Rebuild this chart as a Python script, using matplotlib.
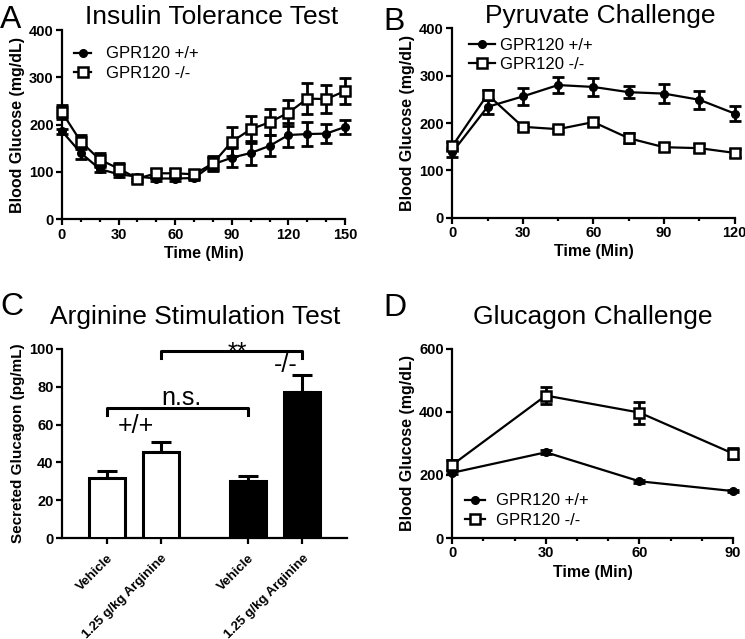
import matplotlib
matplotlib.use("Agg")
import matplotlib.pyplot as plt
import numpy as np

plt.rcParams['font.family'] = ['Liberation Sans', 'DejaVu Sans']

# Panel A - insulin tolerance test
itt_time = [0, 10, 20, 30, 40, 50, 60, 70, 80, 90, 100, 110, 120, 130, 140, 150]
itt_wt = [186, 140, 106, 95, 90, 86, 86, 87, 116, 130, 140, 155, 178, 180, 181, 195]
itt_wt_err = [5, 12, 6, 5, 4, 5, 5, 4, 15, 20, 25, 22, 25, 25, 20, 15]
itt_ko = [226, 164, 126, 107, 86, 97, 97, 95, 118, 164, 190, 205, 225, 255, 254, 271]
itt_ko_err = [15, 15, 15, 12, 8, 10, 10, 8, 15, 30, 28, 28, 28, 32, 30, 28]

# Panel B - pyruvate challenge
pyr_time = [0, 15, 30, 45, 60, 75, 90, 105, 120]
pyr_wt = [138, 234, 256, 280, 276, 265, 262, 249, 220]
pyr_wt_err = [10, 15, 18, 16, 19, 12, 20, 19, 16]
pyr_ko = [151, 260, 192, 187, 202, 168, 149, 147, 137]
pyr_ko_err = [8, 10, 6, 6, 9, 10, 8, 8, 8]

# Panel C - arginine stimulation
arg_labels = ['Vehicle', '1.25 g/kg Arginine', 'Vehicle', '1.25 g/kg Arginine']
arg_pos = [1, 2, 3.6, 4.6]
arg_vals = [32, 45.5, 30, 77]
arg_err = [3.5, 5.5, 3, 9]
arg_colors = ['white', 'white', 'black', 'black']

# Panel D - glucagon challenge
glu_time = [0, 30, 60, 90]
glu_wt = [207, 272, 180, 149]
glu_wt_err = [5, 6, 5, 4]
glu_ko = [232, 452, 398, 268]
glu_ko_err = [15, 28, 35, 18]

lw = 1.6
tfs = 19    # title size
lfs = 11.5  # axis label size


def style_axes(ax):
    for s in ['top', 'right']:
        ax.spines[s].set_visible(False)
    for s in ['left', 'bottom']:
        ax.spines[s].set_linewidth(lw)
    ax.tick_params(direction='out', width=lw, length=4, labelsize=10.5, pad=2)
    ax.tick_params(which='minor', length=2.5, width=lw)
    for t in ax.get_xticklabels() + ax.get_yticklabels():
        t.set_fontweight('bold')


def plot_lines(ax, t, wt, wte, ko, koe):
    ax.errorbar(t, wt, yerr=wte, color='black', fmt='none', elinewidth=2,
                capsize=4, capthick=2, zorder=2, clip_on=False)
    ax.errorbar(t, ko, yerr=koe, color='black', fmt='none', elinewidth=2,
                capsize=4, capthick=2, zorder=2, clip_on=False)
    ax.plot(t, wt, color='black', marker='o', ms=5.5, lw=lw, zorder=3,
            clip_on=False, label='GPR120 +/+')
    ax.plot(t, ko, color='black', marker='s', ms=7, mfc='white', mew=1.8,
            lw=lw, zorder=4, clip_on=False, label='GPR120 -/-')


def time_axes(ax, xmax, major, minor_step, ymax, ystep):
    ax.set_xlim(0, xmax)
    ax.set_ylim(0, ymax)
    ax.set_xticks(major)
    ax.set_xticks(np.arange(0, xmax + 1, minor_step), minor=True)
    ax.set_yticks(np.arange(0, ymax + 1, ystep))
    ax.set_xlabel('Time (Min)', fontsize=lfs, fontweight='bold', labelpad=3)
    ax.set_ylabel('Blood Glucose (mg/dL)', fontsize=lfs, fontweight='bold',
                  labelpad=3)
    style_axes(ax)


fig = plt.figure(figsize=(7.45, 6.39), dpi=100)

# A
axA = fig.add_axes([0.0832, 0.657, 0.380, 0.296])
plot_lines(axA, itt_time, itt_wt, itt_wt_err, itt_ko, itt_ko_err)
time_axes(axA, 150, [0, 30, 60, 90, 120, 150], 10, 400, 100)
axA.set_title('Insulin Tolerance Test', fontsize=tfs, pad=4, x=0.527)
axA.legend(loc='upper left', frameon=False, fontsize=12, handlelength=1.0,
           handletextpad=0.9, labelspacing=0.25,
           bbox_to_anchor=(0.02, 0.949), borderaxespad=0.0)

# B
axB = fig.add_axes([0.607, 0.659, 0.379, 0.297])
plot_lines(axB, pyr_time, pyr_wt, pyr_wt_err, pyr_ko, pyr_ko_err)
time_axes(axB, 120, [0, 30, 60, 90, 120], 15, 400, 100)
axB.set_title('Pyruvate Challenge', fontsize=tfs, pad=4, x=0.523)
axB.legend(loc='upper left', frameon=False, fontsize=12, handlelength=1.55,
           handletextpad=0.3, labelspacing=0.25,
           bbox_to_anchor=(0.035, 0.985), borderaxespad=0.0)

# C
axC = fig.add_axes([0.0832, 0.158, 0.383, 0.296])
axC.bar(arg_pos, arg_vals, width=0.67, color=arg_colors, edgecolor='black',
        linewidth=2.2, zorder=3)
axC.errorbar(arg_pos, arg_vals, yerr=[np.zeros(len(arg_err)), arg_err],
             color='black', elinewidth=2.2, capsize=7, capthick=2.2,
             fmt='none', zorder=2)
axC.set_xlim(0.17, 5.43)
axC.set_ylim(0, 100)
axC.set_yticks([0, 20, 40, 60, 80, 100])
axC.set_xticks(arg_pos)
axC.set_xticklabels(arg_labels)
axC.set_ylabel('Secreted Glucagon (pg/mL)', fontsize=11, fontweight='bold',
               labelpad=3)
axC.set_title('Arginine Stimulation Test', fontsize=tfs, pad=18, x=0.467)
style_axes(axC)
for t in axC.get_xticklabels():
    t.set_rotation(45)
    t.set_ha('right')
    t.set_rotation_mode('anchor')
    t.set_fontsize(9.5)
axC.tick_params(axis='x', pad=6)
# significance brackets
for x0, x1, y in [(arg_pos[0], arg_pos[2], 69), (arg_pos[1], arg_pos[3], 99)]:
    axC.plot([x0, x0, x1, x1], [y - 4, y, y, y - 4], color='black', lw=2.2,
             clip_on=False)
axC.text((arg_pos[0] + arg_pos[2]) / 2 + 0.07, 70.3, 'n.s.', ha='center',
         va='baseline', fontsize=18)
axC.text((arg_pos[1] + arg_pos[3]) / 2 + 0.1, 94, '**', ha='center',
         va='baseline', fontsize=18)
axC.text(1.53, 59, '+/+', ha='center', va='center', fontsize=18)
axC.text(4.3, 91.5, '-/-', ha='center', va='center', fontsize=18)

# D
axD = fig.add_axes([0.607, 0.158, 0.377, 0.296])
plot_lines(axD, glu_time, glu_wt, glu_wt_err, glu_ko, glu_ko_err)
time_axes(axD, 90, [0, 30, 60, 90], 10, 600, 200)
axD.set_title('Glucagon Challenge', fontsize=tfs, pad=18)
axD.legend(loc='lower left', frameon=False, fontsize=12, handlelength=1.2,
           handletextpad=0.7, labelspacing=0.25,
           bbox_to_anchor=(0.021, 0.02), borderaxespad=0.0)

# panel letters
fig.text(0.0, 0.992, 'A', fontsize=23, va='top', ha='left')
fig.text(0.514, 0.989, 'B', fontsize=23, va='top', ha='left')
fig.text(0.0, 0.543, 'C', fontsize=23, va='top', ha='left')
fig.text(0.514, 0.541, 'D', fontsize=23, va='top', ha='left')

fig.savefig('out.png', dpi=100)
